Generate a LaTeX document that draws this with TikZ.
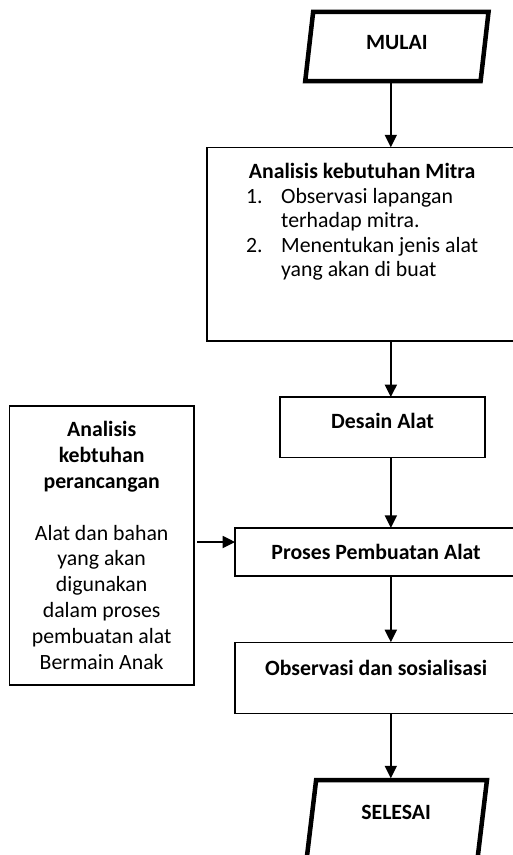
\documentclass[tikz,border=0pt]{standalone}
\usepackage{fontspec}
\setmainfont{Carlito}
\usetikzlibrary{arrows.meta,positioning,calc}

\begin{document}
\begin{tikzpicture}[>={Triangle[width=0.32cm,length=0.33cm]},
    box/.style={draw,line width=1pt,inner sep=0pt,outer sep=0pt},
    term/.style={inner sep=0pt,outer sep=0pt},
    termline/.style={line width=3.4pt,line join=miter},
    flow/.style={->,line width=1.1pt},
    head/.style={inner sep=0pt,font=\fontsize{16.4}{19.5}\selectfont\bfseries}]
  \useasboundingbox (0,0) rectangle (13.57,-22.62);
  \coordinate (axis) at (10.34,0);

  % start / end terminals
  \node[term,minimum width=4.64cm,minimum height=1.83cm] (mulai) at (10.50,-1.23) {};
  \draw[termline] ($(mulai.south west)+(-0.105,0)$) -- ($(mulai.north west)+(0.105,0)$)
    -- ($(mulai.north east)+(0.105,0)$) -- ($(mulai.south east)+(-0.105,0)$) -- cycle;
  \node[head,below=0.62cm of mulai.north] (mulaitext) {MULAI};

  \node[term,minimum width=4.52cm,minimum height=2.38cm] (selesai) at (10.48,-21.83) {};
  \draw[termline] ($(selesai.south west)+(-0.143,0)$) -- ($(selesai.north west)+(0.143,0)$)
    -- ($(selesai.north east)+(0.143,0)$) -- ($(selesai.south east)+(-0.143,0)$) -- cycle;
  \node[head,below=0.65cm of selesai.north] (selesaitext) {SELESAI};

  % process boxes
  \node[box,minimum width=8.20cm,minimum height=5.13cm] (mitra) at (9.58,-6.46) {};
  \node[below=0.38cm of mitra.north,inner sep=0pt,font=\fontsize{16.4}{18.4}\selectfont] (mitratext) {%
    \begin{tabular}{@{}p{0.93cm}@{}l@{}}
      \multicolumn{2}{@{}c@{}}{\bfseries Analisis kebutuhan Mitra}\\
      1. & Observasi lapangan\\
         & terhadap mitra.\\
      2. & Menentukan jenis alat\\
         & yang akan di buat
    \end{tabular}};

  \node[box,minimum width=5.42cm,minimum height=1.59cm] (desain) at (10.12,-11.30) {};
  \node[head,below=0.43cm of desain.north] (desaintext) {Desain Alat};

  \node[box,minimum width=7.46cm,minimum height=1.27cm,
        font=\fontsize{16.4}{19.5}\selectfont\bfseries] (proses) at (9.95,-14.60) {Proses Pembuatan Alat};

  \node[box,minimum width=7.46cm,minimum height=1.88cm] (observasi) at (9.95,-17.93) {};
  \node[head,below=0.48cm of observasi.north] (observasitext) {Observasi dan sosialisasi};

  \node[box,minimum width=4.89cm,minimum height=7.38cm,align=center,
        font=\fontsize{16.4}{19.5}\selectfont] (perancangan) at (2.69,-14.43) {%
    \textbf{Analisis}\\\textbf{kebtuhan}\\\textbf{perancangan}\\[19.5pt]
    Alat dan bahan\\yang akan\\digunakan\\dalam proses\\pembuatan alat\\Bermain Anak};

  % connectors
  \coordinate (feed) at (0,-14.34);
  \draw[flow] (mulai.south -| axis) -- (mitra.north -| axis);
  \draw[flow] (mitra.south -| axis) -- (desain.north -| axis);
  \draw[flow] (desain.south -| axis) -- (proses.north -| axis);
  \draw[flow] (proses.south -| axis) -- (observasi.north -| axis);
  \draw[flow,shorten >=0.05cm] (observasi.south -| axis) -- (selesai.north -| axis);
  \draw[flow,shorten <=0.08cm] (perancangan.east |- feed) -- (proses.west |- feed);
\end{tikzpicture}
\end{document}
